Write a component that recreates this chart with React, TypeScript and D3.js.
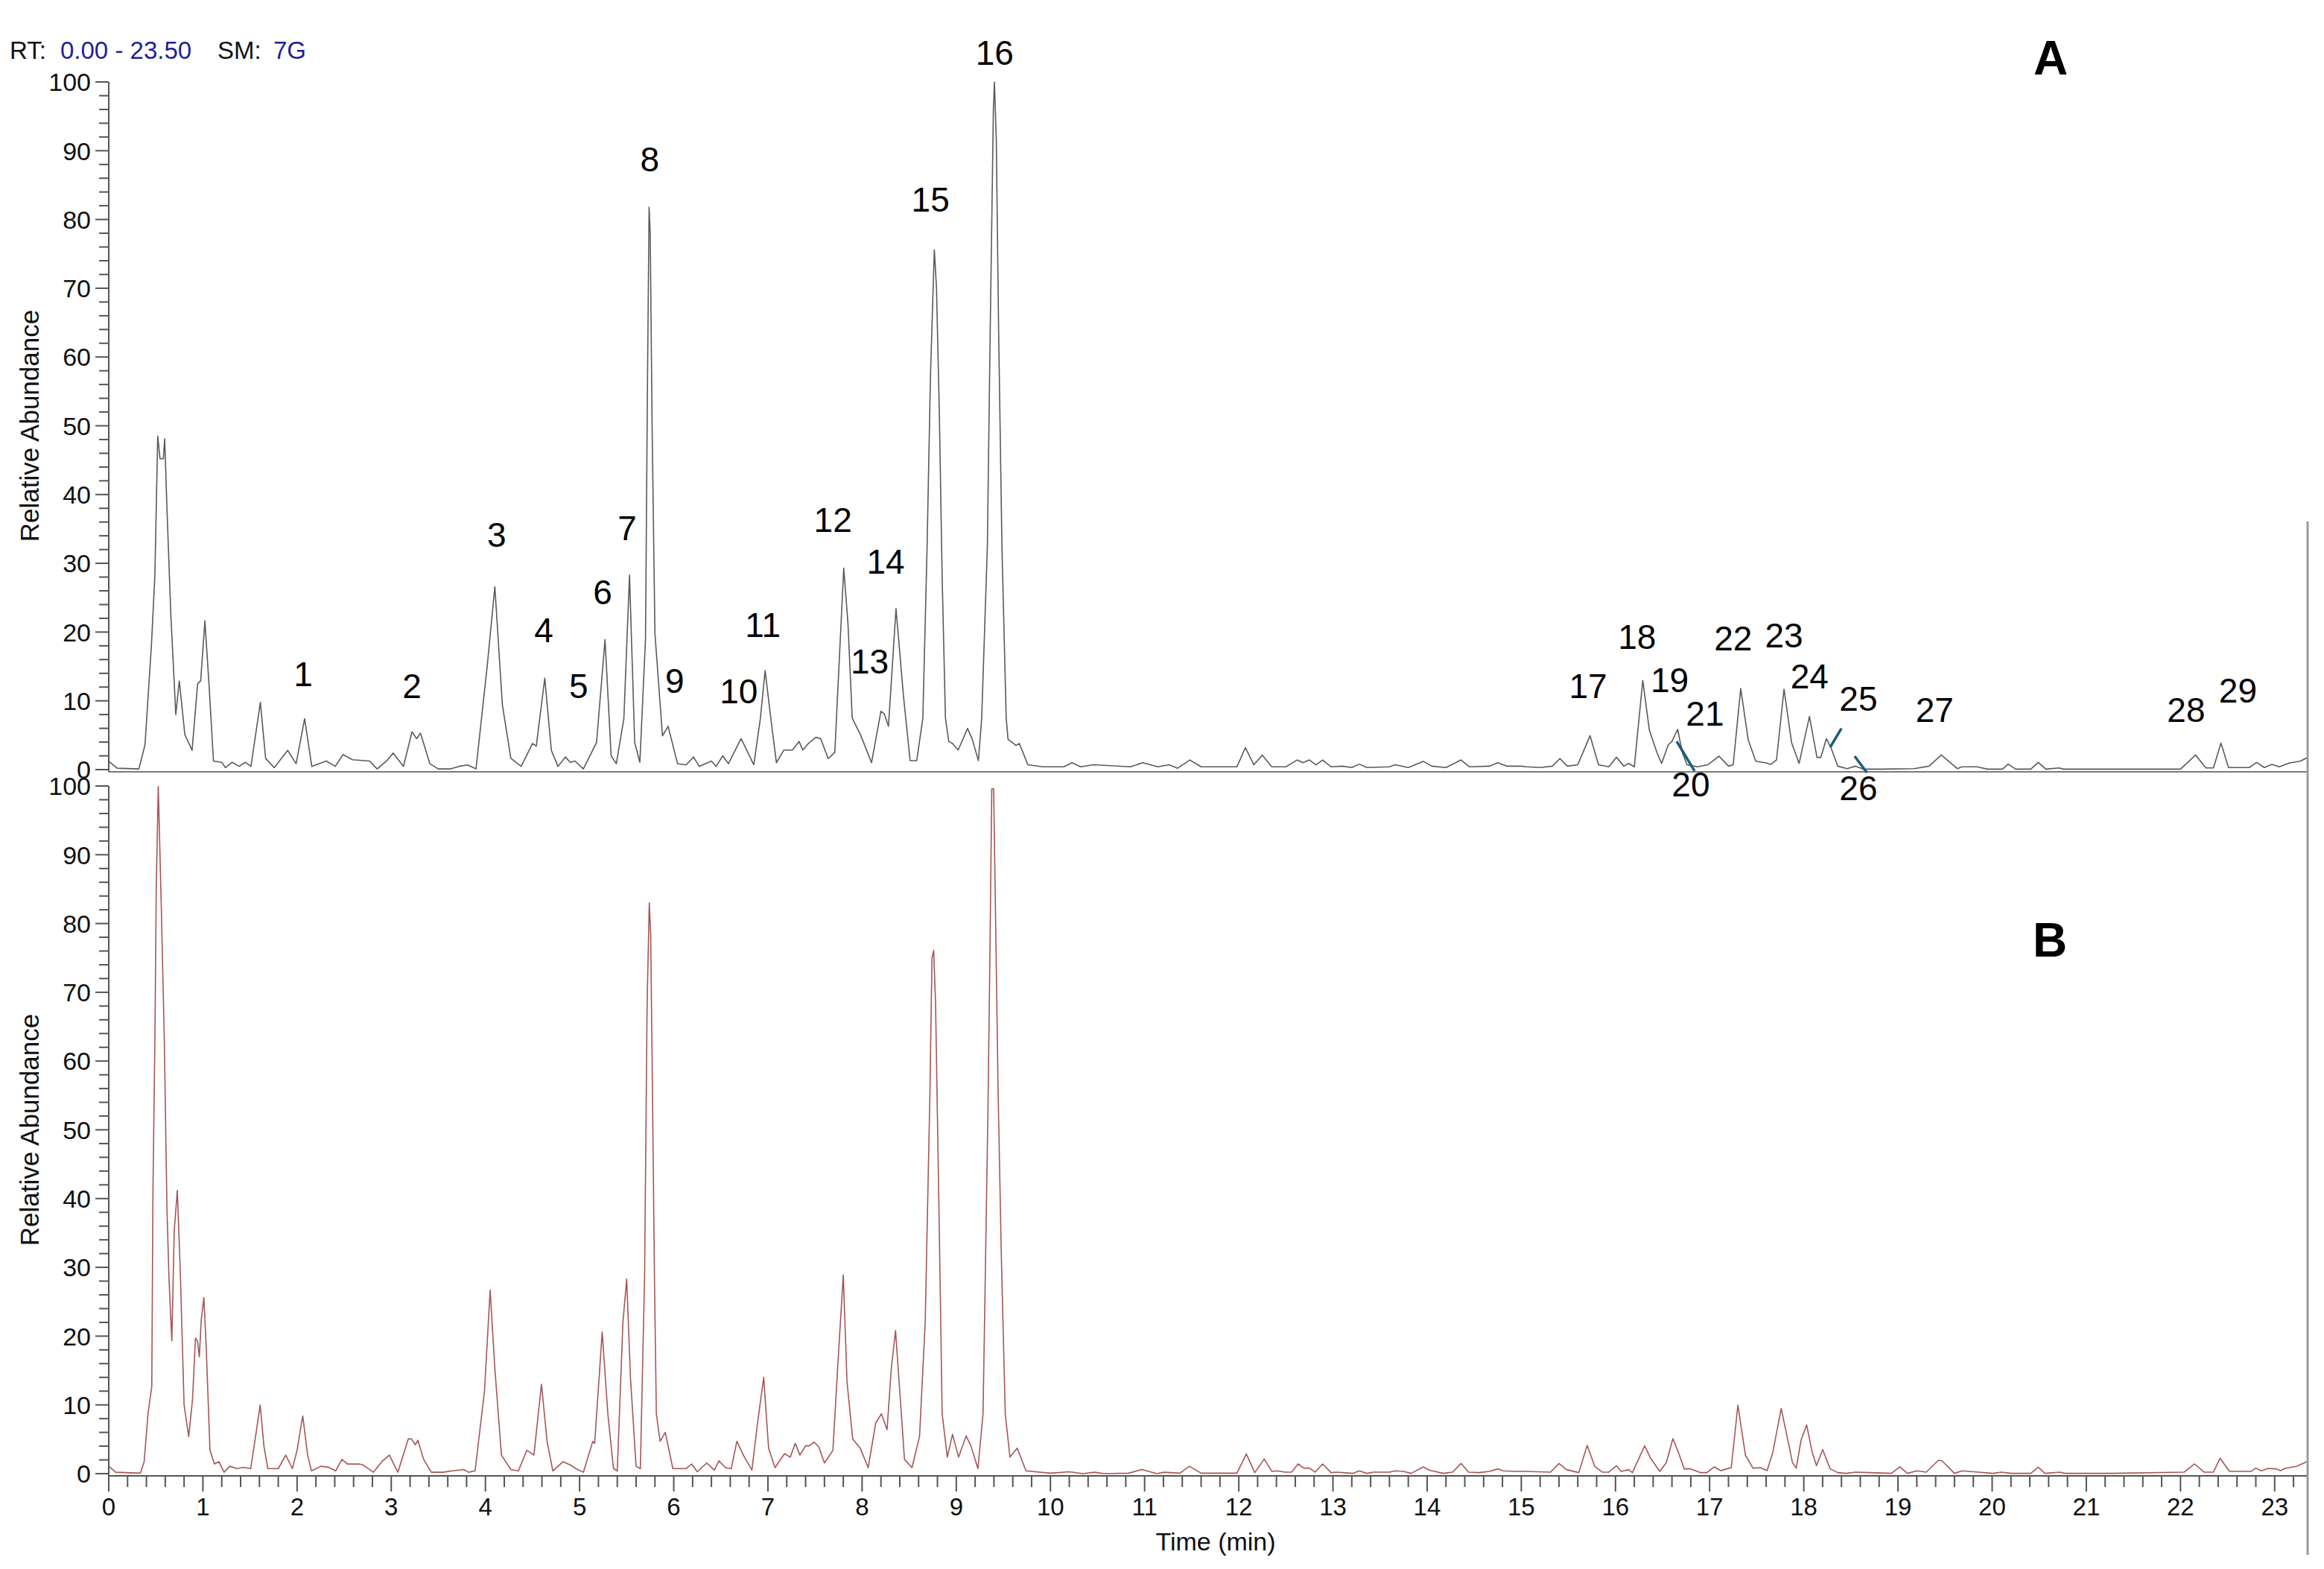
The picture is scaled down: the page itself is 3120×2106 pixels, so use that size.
import React from "react";
import * as d3 from "d3";

// ---------- DATA ----------
// Chromatogram A (top, grey): [time (min), relative abundance]
const traceA: [number, number][] = [
  [0.0, 1.2], [0.09, 0.2], [0.32, 0.1], [0.385, 3.6], [0.454, 18.3], [0.49, 28.3], [0.52, 48.5], [0.544, 45.2],
  [0.58, 45.2], [0.594, 48.1], [0.617, 38.4], [0.658, 22.9], [0.712, 8.0], [0.749, 12.9], [0.808, 5.1], [0.885, 2.8],
  [0.944, 12.5], [0.976, 12.9], [1.021, 21.6], [1.066, 12.1], [1.112, 1.25], [1.2, 1.06], [1.24, 0.28], [1.31, 1.06],
  [1.385, 0.47], [1.45, 1.06], [1.51, 0.47], [1.61, 9.76], [1.666, 1.64], [1.757, 0.28], [1.9, 2.8], [1.99, 0.86],
  [2.08, 7.4], [2.156, 0.47], [2.31, 1.25], [2.406, 0.47], [2.488, 2.2], [2.588, 1.44], [2.77, 1.25], [2.85, 0.1],
  [2.95, 1.25], [3.02, 2.4], [3.13, 0.47], [3.22, 5.5], [3.27, 4.5], [3.31, 5.3], [3.41, 0.86], [3.5, 0.1],
  [3.63, 0.1], [3.72, 0.47], [3.81, 0.67], [3.9, 0.1], [4.02, 15.2], [4.1, 26.6], [4.18, 9.4], [4.27, 1.64],
  [4.38, 0.47], [4.5, 3.8], [4.54, 3.4], [4.63, 13.3], [4.7, 2.8], [4.77, 0.47], [4.85, 1.83], [4.9, 1.06],
  [4.95, 1.25], [5.04, 0.1], [5.18, 3.95], [5.27, 18.9], [5.335, 2.0], [5.39, 0.86], [5.47, 7.4], [5.53, 28.3],
  [5.585, 3.95], [5.64, 1.06], [5.7, 19.05], [5.72, 55], [5.738, 81.8], [5.75, 78], [5.77, 50], [5.8, 19.8],
  [5.88, 4.9], [5.94, 6.3], [6.04, 0.86], [6.13, 0.67], [6.21, 1.83], [6.27, 0.47], [6.4, 1.25], [6.45, 0.47],
  [6.52, 2.0], [6.58, 0.86], [6.715, 4.5], [6.85, 0.7], [6.92, 7.5], [6.97, 14.4], [7.03, 7.5], [7.09, 1.0],
  [7.17, 2.85], [7.26, 2.85], [7.33, 4.1], [7.37, 2.85], [7.43, 3.8], [7.51, 4.7], [7.56, 4.5], [7.64, 1.6],
  [7.71, 2.5], [7.805, 29.3], [7.85, 21.2], [7.895, 7.5], [7.985, 5.0], [8.1, 1.0], [8.2, 8.5], [8.235, 8.1],
  [8.28, 6.3], [8.36, 23.4], [8.44, 10.6], [8.51, 1.3], [8.58, 1.3], [8.645, 7.5], [8.69, 32.4], [8.726, 57.3],
  [8.767, 75.6], [8.79, 70], [8.82, 52], [8.85, 28], [8.885, 7.5], [8.92, 4.1], [8.96, 3.8], [9.02, 2.85],
  [9.12, 6.0], [9.17, 4.4], [9.235, 1.3], [9.27, 7.5], [9.33, 32.4], [9.36, 63.5], [9.394, 96], [9.405, 100],
  [9.425, 91.5], [9.45, 63.5], [9.485, 32.4], [9.53, 7.5], [9.55, 4.4], [9.635, 3.5], [9.67, 3.8], [9.76, 0.7],
  [9.92, 0.4], [10.14, 0.4], [10.23, 1.0], [10.32, 0.4], [10.46, 0.7], [10.85, 0.4], [10.98, 1.0], [11.14, 0.4],
  [11.26, 0.7], [11.35, 0.2], [11.48, 1.4], [11.6, 0.4], [11.98, 0.4], [12.07, 3.2], [12.16, 0.7], [12.25, 2.1],
  [12.35, 0.4], [12.5, 0.4], [12.62, 1.4], [12.68, 1.0], [12.75, 1.4], [12.82, 0.7], [12.89, 1.4], [12.98, 0.4],
  [13.1, 0.5], [13.2, 0.3], [13.28, 0.8], [13.36, 0.3], [13.6, 0.4], [13.66, 0.7], [13.8, 0.3], [13.96, 1.2],
  [14.05, 0.5], [14.2, 0.3], [14.36, 1.4], [14.45, 0.4], [14.66, 0.5], [14.75, 1.0], [14.85, 0.5], [15.0, 0.5],
  [15.06, 0.4], [15.2, 0.3], [15.33, 0.5], [15.41, 1.6], [15.49, 0.5], [15.6, 0.7], [15.73, 4.94], [15.82, 0.7],
  [15.93, 0.4], [16.01, 1.8], [16.09, 0.5], [16.14, 0.9], [16.2, 0.4], [16.29, 12.96], [16.36, 5.74], [16.44, 2.49],
  [16.49, 0.9], [16.56, 3.57], [16.6, 4.1], [16.66, 5.85], [16.71, 2.49], [16.76, 0.7], [16.87, 0.4], [16.98, 0.7],
  [17.1, 1.95], [17.2, 0.5], [17.25, 0.7], [17.33, 11.8], [17.41, 4.3], [17.49, 1.22], [17.6, 0.97], [17.65, 0.76],
  [17.71, 1.4], [17.79, 11.7], [17.87, 3.93], [17.95, 0.9], [18.06, 7.73], [18.14, 1.77], [18.18, 1.77], [18.24, 4.5],
  [18.29, 3.14], [18.36, 0.5], [18.46, 0.14], [18.55, 0.5], [18.63, 0.07], [18.84, 0.07], [19.17, 0.14], [19.33, 0.5],
  [19.46, 2.13], [19.63, 0.14], [19.68, 0.4], [19.84, 0.4], [19.95, 0.07], [20.11, 0.07], [20.17, 0.8], [20.25, 0.07],
  [20.41, 0.07], [20.49, 1.05], [20.57, 0.07], [20.71, 0.25], [20.76, 0.07], [22.0, 0.07], [22.16, 2.13], [22.27, 0.25],
  [22.35, 0.25], [22.43, 3.86], [22.51, 0.3], [22.73, 0.3], [22.81, 1.05], [22.89, 0.3], [22.97, 0.76], [23.05, 0.4],
  [23.16, 0.97], [23.27, 1.22], [23.35, 1.77],
];

// Chromatogram B (bottom, red)
const traceB: [number, number][] = [
  [0.0, 1.1], [0.074, 0.2], [0.336, 0.07], [0.376, 1.74], [0.417, 8.7], [0.457, 12.7], [0.469, 40.6], [0.49, 63.1],
  [0.505, 85.7], [0.526, 99.9], [0.558, 82.4], [0.59, 63.1], [0.618, 38.6], [0.639, 28.6], [0.67, 19.3], [0.695, 35.2],
  [0.728, 41.2], [0.76, 29.3], [0.8, 10.0], [0.849, 5.4], [0.889, 10.7], [0.921, 19.7], [0.942, 19.3], [0.962, 17.0],
  [0.982, 22.3], [1.01, 25.6], [1.034, 18.7], [1.075, 3.4], [1.123, 1.4], [1.17, 1.74], [1.224, 0.2], [1.285, 1.07],
  [1.365, 0.73], [1.426, 0.93], [1.507, 0.73], [1.559, 5.4], [1.608, 10.0], [1.648, 4.0], [1.689, 0.73], [1.8, 0.73],
  [1.88, 2.7], [1.95, 0.73], [2.0, 3.4], [2.06, 8.4], [2.112, 2.7], [2.153, 0.4], [2.254, 1.07], [2.334, 0.93],
  [2.41, 0.4], [2.476, 2.07], [2.536, 1.4], [2.657, 1.4], [2.7, 1.27], [2.81, 0.2], [2.9, 1.74], [2.98, 2.7],
  [3.07, 0.2], [3.18, 5.05], [3.214, 5.05], [3.255, 4.2], [3.283, 4.85], [3.344, 2.07], [3.425, 0.2], [3.55, 0.2],
  [3.65, 0.4], [3.77, 0.6], [3.82, 0.2], [3.89, 0.4], [3.99, 12.0], [4.05, 26.7], [4.1, 15.3], [4.17, 2.7],
  [4.27, 0.6], [4.35, 0.4], [4.44, 3.4], [4.515, 2.7], [4.595, 13.0], [4.655, 4.7], [4.716, 0.4], [4.825, 1.74],
  [4.9, 1.27], [4.96, 0.73], [5.04, 0.2], [5.14, 4.7], [5.16, 4.4], [5.24, 20.6], [5.3, 8.7], [5.36, 0.73],
  [5.4, 0.4], [5.46, 22.0], [5.5, 28.3], [5.54, 14.0], [5.6, 1.07], [5.645, 0.73], [5.69, 28.6], [5.717, 68.4],
  [5.74, 83.0], [5.755, 78.4], [5.774, 55.2], [5.795, 28.6], [5.815, 8.7], [5.855, 4.7], [5.91, 6.0], [5.99, 0.73],
  [6.13, 0.73], [6.19, 1.4], [6.25, 0.27], [6.35, 1.54], [6.43, 0.53], [6.48, 1.87], [6.55, 0.87], [6.61, 0.73],
  [6.67, 4.7], [6.75, 2.4], [6.83, 0.53], [6.89, 7.4], [6.955, 14.0], [7.007, 3.7], [7.075, 0.87], [7.176, 2.9],
  [7.237, 2.4], [7.29, 4.4], [7.34, 2.7], [7.4, 4.05], [7.44, 4.05], [7.49, 4.6], [7.54, 3.9], [7.6, 1.54],
  [7.69, 3.4], [7.74, 15.3], [7.8, 28.9], [7.84, 13.3], [7.9, 5.05], [7.98, 3.7], [8.065, 0.87], [8.145, 7.4],
  [8.205, 8.7], [8.265, 6.4], [8.31, 15.3], [8.355, 20.8], [8.41, 10.0], [8.45, 2.07], [8.53, 0.87], [8.61, 5.4],
  [8.67, 22.0], [8.7, 41.9], [8.72, 55.2], [8.742, 75], [8.76, 76.1], [8.78, 68.4], [8.8, 51.8], [8.82, 35.2],
  [8.85, 8.7], [8.905, 2.4], [8.96, 5.7], [9.025, 2.4], [9.105, 5.5], [9.155, 4.05], [9.23, 0.73], [9.284, 8.7],
  [9.3, 21.9], [9.336, 52.5], [9.357, 75], [9.377, 99.6], [9.397, 99.6], [9.42, 78.4], [9.445, 55], [9.478, 32],
  [9.52, 8.7], [9.57, 2.4], [9.647, 3.7], [9.74, 0.4], [10.0, 0.07], [10.2, 0.27], [10.345, 0], [10.47, 0.2],
  [10.57, 0], [10.83, 0.07], [10.97, 0.6], [11.13, 0], [11.21, 0.2], [11.375, 0.07], [11.475, 1.07], [11.6, 0.07],
  [11.98, 0.07], [12.08, 2.86], [12.17, 0.15], [12.27, 2.13], [12.35, 0.33], [12.41, 0.4], [12.49, 0.22], [12.56, 0.22],
  [12.63, 1.41], [12.69, 0.8], [12.75, 0.8], [12.81, 0.22], [12.89, 1.41], [12.98, 0.15], [13.04, 0.22], [13.21, 0.04],
  [13.28, 0.4], [13.36, 0.04], [13.43, 0.22], [13.6, 0.22], [13.66, 0.4], [13.75, 0.33], [13.83, 0.04], [13.96, 0.98],
  [14.02, 0.51], [14.17, 0.04], [14.27, 0.22], [14.36, 1.48], [14.44, 0.22], [14.55, 0.15], [14.66, 0.33], [14.75, 0.69],
  [14.81, 0.4], [14.93, 0.33], [15.04, 0.33], [15.31, 0.22], [15.4, 1.48], [15.48, 0.58], [15.61, 0.15], [15.7, 4.12],
  [15.78, 1.05], [15.86, 0.22], [15.93, 0.22], [16.01, 1.16], [16.06, 0.33], [16.14, 0.58], [16.18, 0.15], [16.31, 4.05],
  [16.37, 2.31], [16.47, 0.33], [16.54, 1.59], [16.61, 5.1], [16.67, 3.04], [16.73, 0.69], [16.8, 0.69], [16.9, 0.15],
  [16.97, 0.15], [17.05, 0.98], [17.12, 0.44], [17.18, 0.69], [17.23, 0.87], [17.3, 9.97], [17.38, 2.68], [17.46, 0.8],
  [17.54, 0.87], [17.61, 0.44], [17.67, 3.04], [17.76, 9.46], [17.82, 5.56], [17.88, 1.59], [17.92, 0.8], [17.97, 4.84],
  [18.03, 7.08], [18.09, 3.04], [18.135, 1.16], [18.2, 3.5], [18.28, 0.69], [18.36, 0.15], [18.45, 0.04], [18.55, 0.22],
  [18.7, 0.15], [18.93, 0.04], [19.02, 0.98], [19.1, 0.04], [19.2, 0.4], [19.3, 0.22], [19.43, 1.95], [19.47, 1.84],
  [19.6, 0.04], [19.68, 0.4], [19.78, 0.3], [20.01, 0.04], [20.1, 0.22], [20.2, 0.04], [20.41, 0.04], [20.49, 0.94],
  [20.56, 0.04], [20.72, 0.22], [20.77, 0.04], [21.27, 0.04], [22.04, 0.22], [22.15, 1.41], [22.25, 0.22], [22.35, 0.22],
  [22.42, 2.24], [22.52, 0.33], [22.75, 0.33], [22.8, 0.8], [22.86, 0.4], [22.93, 0.76], [23.02, 0.69], [23.06, 0.44],
  [23.11, 0.76], [23.23, 1.05], [23.32, 1.59], [23.35, 1.8],
];

// Peak labels for panel A: [label, time, abundance] (text centre)
const peakLabels: [string, number, number][] = [
  ["1", 2.065, 13.9], ["2", 3.22, 12.2], ["3", 4.12, 34.2], ["4", 4.62, 20.3], ["5", 4.99, 12.2],
  ["6", 5.245, 25.8], ["7", 5.506, 35.2], ["8", 5.744, 88.8], ["9", 6.01, 13.0], ["10", 6.69, 11.4],
  ["11", 6.946, 21.1], ["12", 7.69, 36.4], ["13", 8.08, 15.8], ["14", 8.25, 30.3], ["15", 8.726, 82.9],
  ["16", 9.407, 104.3], ["17", 15.71, 12.2], ["18", 16.23, 19.3], ["19", 16.575, 13.1], ["20", 16.8, -2.1],
  ["21", 16.95, 8.2], ["22", 17.25, 19.1], ["23", 17.79, 19.6], ["24", 18.06, 13.65], ["25", 18.58, 10.3],
  ["26", 18.58, -2.7], ["27", 19.39, 8.7], ["28", 22.06, 8.7], ["29", 22.61, 11.5],
];

// Leader lines: [t1, v1, t2, v2]
const leaders: [number, number, number, number][] = [
  [16.65, 4.1, 16.84, -0.2],
  [18.4, 6.0, 18.28, 3.25],
  [18.54, 1.95, 18.67, -0.43],
];

const yTickValues = [0, 10, 20, 30, 40, 50, 60, 70, 80, 90, 100];
const xTickValues = [0, 1, 2, 3, 4, 5, 6, 7, 8, 9, 10, 11, 12, 13, 14, 15, 16, 17, 18, 19, 20, 21, 22, 23];
const xMax = 23.35;

// ---------- LAYOUT ----------
const W = 3120, H = 2106;
const X0 = 146, X1 = 3098;
const font = "'Liberation Sans', Arial, sans-serif";
const axisCol = "#555";

const x = d3.scaleLinear().domain([0, xMax]).range([X0, X1]);
const yA = d3.scaleLinear().domain([0, 100]).range([1033, 110]);
const yB = d3.scaleLinear().domain([0, 100]).range([1978, 1055]);

const minorY = d3.range(0, 101, 2);
const minorX = d3.range(0, xMax, 0.2);

function YAxis({ y, top, bottom }: { y: d3.ScaleLinear<number, number>; top: number; bottom: number }) {
  return (
    <g>
      <line x1={X0} x2={X0} y1={top} y2={bottom} stroke={axisCol} strokeWidth={2} />
      {minorY.map((v) => (
        <line key={"m" + v} x1={v % 10 === 0 ? 128 : 133} x2={X0} y1={y(v)} y2={y(v)} stroke={axisCol} strokeWidth={2} />
      ))}
      {yTickValues.map((v) => (
        <text key={v} x={122} y={y(v)} dy="0.36em" textAnchor="end" fontSize={34} fontFamily={font} fill="#111">
          {v}
        </text>
      ))}
    </g>
  );
}

export default function App() {
  const lineA = d3.line<[number, number]>().x((d) => x(d[0])).y((d) => yA(d[1]));
  const lineB = d3.line<[number, number]>().x((d) => x(d[0])).y((d) => yB(d[1]));
  return (
    <div style={{ position: "absolute", left: 0, top: 0 }}>
      <svg width={W} height={H} viewBox={`0 0 ${W} ${H}`} style={{ display: "block", background: "#fff" }}>
        <rect x={0} y={0} width={W} height={H} fill="#fff" />
        {/* header */}
        <text y={79} fontSize={33} fontFamily={font}>
          <tspan x={13} fill="#111">RT:</tspan>
          <tspan x={81} fill="#1f1f9e">0.00 - 23.50</tspan>
          <tspan x={292} fill="#111">SM:</tspan>
          <tspan x={367} fill="#1f1f9e">7G</tspan>
        </text>

        {/* panel A */}
        <YAxis y={yA} top={110} bottom={1036} />
        <line x1={X0} x2={X1} y1={1036} y2={1036} stroke="#7a7a7a" strokeWidth={2} />
        <path d={lineA(traceA) || ""} fill="none" stroke="#5a5a5a" strokeWidth={1.6} strokeLinejoin="round" />
        <text x={2753} y={100} textAnchor="middle" fontSize={64} fontWeight="bold" fontFamily={font} fill="#000">A</text>
        <text transform={`translate(52, ${(yA(0) + yA(100)) / 2}) rotate(-90)`} textAnchor="middle" fontSize={35} fontFamily={font} fill="#111">
          Relative Abundance
        </text>
        {peakLabels.map(([lab, t, v]) => (
          <text key={lab} x={x(t)} y={yA(v)} dy="0.36em" textAnchor="middle" fontSize={46} fontFamily={font} fill="#000">
            {lab}
          </text>
        ))}
        {leaders.map((l, i) => (
          <line key={i} x1={x(l[0])} y1={yA(l[1])} x2={x(l[2])} y2={yA(l[3])} stroke="#1c5d78" strokeWidth={3.5} />
        ))}

        {/* panel B */}
        <YAxis y={yB} top={1055} bottom={1981} />
        <line x1={X0} x2={X1} y1={1981} y2={1981} stroke={axisCol} strokeWidth={2} />
        {minorX.map((t, i) => (
          <line key={i} x1={x(t)} x2={x(t)} y1={1981} y2={i % 5 === 0 ? 2002 : 1996} stroke={axisCol} strokeWidth={2} />
        ))}
        {xTickValues.map((t) => (
          <text key={t} x={x(t)} y={2034} textAnchor="middle" fontSize={33} fontFamily={font} fill="#111">
            {t}
          </text>
        ))}
        <path d={lineB(traceB) || ""} fill="none" stroke="#a65555" strokeWidth={1.6} strokeLinejoin="round" />
        <text x={2752} y={1284} textAnchor="middle" fontSize={64} fontWeight="bold" fontFamily={font} fill="#000">B</text>
        <text transform={`translate(52, ${(yB(0) + yB(100)) / 2}) rotate(-90)`} textAnchor="middle" fontSize={35} fontFamily={font} fill="#111">
          Relative Abundance
        </text>
        <text x={1632} y={2081} textAnchor="middle" fontSize={34} fontFamily={font} fill="#111">Time (min)</text>

        {/* right border */}
        <line x1={X1} x2={X1} y1={700} y2={2087} stroke="#999" strokeWidth={3} />
      </svg>
    </div>
  );
}
